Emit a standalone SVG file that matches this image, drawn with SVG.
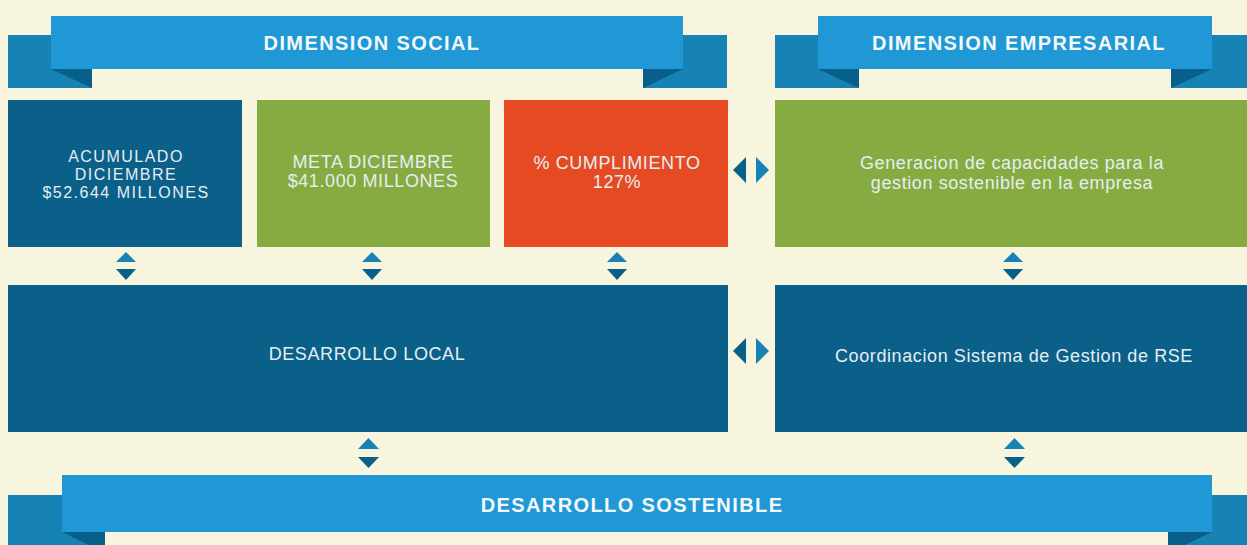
<svg xmlns="http://www.w3.org/2000/svg" width="1247" height="545" viewBox="0 0 1247 545">
<style>
.back{fill:#1782b4}
.band{fill:#1f98d5}
.fold{fill:#085f89}
.dark{fill:#0a6089}
.green{fill:#86ab41}
.orange{fill:#e64a23}
.title{font-family:"Liberation Sans",Arial,sans-serif;font-weight:bold;font-size:20px;letter-spacing:1.4px;fill:#f4f8fa;text-anchor:middle}
.lbl{font-family:"Liberation Sans",Arial,sans-serif;font-size:18px;letter-spacing:0.6px;fill:#e6eef2;text-anchor:middle}
.tight{font-size:16px;letter-spacing:1.5px}
.up{fill:#1782b4}
.dn{fill:#085f89}
</style>
<rect width="1247" height="545" fill="#f8f5de"/>
<g id="ribbon-social">
<rect class="back" x="8" y="35" width="84" height="53"/>
<rect class="back" x="643" y="35" width="84" height="53"/>
<rect class="band" x="51" y="16" width="632" height="53"/>
<polygon class="fold" points="51,69 92,69 92,88"/>
<polygon class="fold" points="643,69 683,69 643,88"/>
<text class="title" x="372" y="50">DIMENSION SOCIAL</text>
</g>
<g id="ribbon-empresarial">
<rect class="back" x="775" y="35" width="84" height="53"/>
<rect class="back" x="1171" y="35" width="76" height="53"/>
<rect class="band" x="818" y="16" width="394" height="53"/>
<polygon class="fold" points="818,69 859,69 859,88"/>
<polygon class="fold" points="1171,69 1212,69 1171,88"/>
<text class="title" x="1019" y="50">DIMENSION EMPRESARIAL</text>
</g>
<g id="acumulado">
<rect class="dark" x="8" y="100" width="234" height="147"/>
<text class="lbl tight" x="126" y="162">ACUMULADO</text>
<text class="lbl tight" x="126" y="180">DICIEMBRE</text>
<text class="lbl tight" x="126" y="198">$52.644 MILLONES</text>
</g>
<g id="meta">
<rect class="green" x="257" y="100" width="233" height="147"/>
<text class="lbl" x="373" y="168">META DICIEMBRE</text>
<text class="lbl" x="373" y="187">$41.000 MILLONES</text>
</g>
<g id="cumplimiento">
<rect class="orange" x="504" y="100" width="224" height="147"/>
<text class="lbl" x="617" y="169">% CUMPLIMIENTO</text>
<text class="lbl" x="617" y="188">127%</text>
</g>
<g id="generacion">
<rect class="green" x="775" y="100" width="472" height="147"/>
<text class="lbl" x="1012" y="169">Generacion de capacidades para la</text>
<text class="lbl" x="1012" y="189">gestion sostenible en la empresa</text>
</g>
<g id="desarrollo-local">
<rect class="dark" x="8" y="285" width="720" height="147"/>
<text class="lbl" x="367" y="360">DESARROLLO LOCAL</text>
</g>
<g id="coordinacion">
<rect class="dark" x="775" y="285" width="472" height="147"/>
<text class="lbl" x="1014" y="362">Coordinacion Sistema de Gestion de RSE</text>
</g>
<g id="ribbon-sostenible">
<rect class="back" x="8" y="495" width="97" height="50"/>
<rect class="back" x="1168" y="495" width="79" height="50"/>
<rect class="band" x="62" y="475" width="1150" height="57"/>
<polygon class="fold" points="62,532 105,532 105,553"/>
<polygon class="fold" points="1168,532 1212,532 1168,553"/>
<text class="title" x="632" y="512">DESARROLLO SOSTENIBLE</text>
</g>
<g id="connectors">
<polygon class="up" points="116,262 126,252 136,262"/>
<polygon class="dn" points="116,269 126,280 136,269"/>
<polygon class="up" points="362,262 372,252 382,262"/>
<polygon class="dn" points="362,269 372,280 382,269"/>
<polygon class="up" points="607,262 617,252 627,262"/>
<polygon class="dn" points="607,269 617,280 627,269"/>
<polygon class="up" points="1003,262 1013,252 1023,262"/>
<polygon class="dn" points="1003,269 1013,280 1023,269"/>
<polygon class="up" points="358,449 368.5,438 379,449"/>
<polygon class="dn" points="358,457 368.5,468 379,457"/>
<polygon class="up" points="1004,449 1014.5,438 1025,449"/>
<polygon class="dn" points="1004,457 1014.5,468 1025,457"/>
<polygon class="dn" points="746,157 733,170 746,183"/>
<polygon class="up" points="756,157 769,170 756,183"/>
<polygon class="dn" points="746,338 733,351 746,364"/>
<polygon class="up" points="756,338 769,351 756,364"/>
</g>
</svg>
